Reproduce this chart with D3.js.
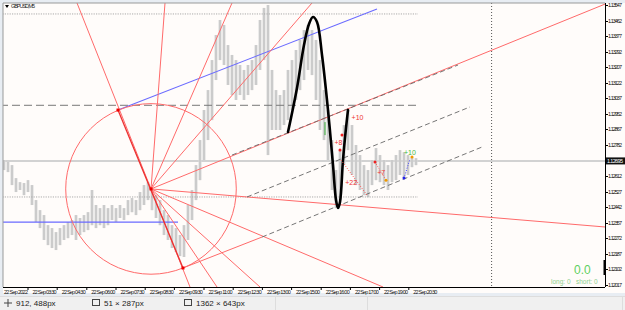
<!DOCTYPE html>
<html><head><meta charset="utf-8">
<script src="https://cdn.jsdelivr.net/npm/d3@7"></script>
<style>
body{margin:0;background:#fff;overflow:hidden}
svg{display:block;font-family:"Liberation Sans",Arial,sans-serif}
</style></head>
<body><svg id="c" width="625" height="310"></svg>
<script>
// ---------------- data ----------------
const symbolTitle = "GBPUSD,M5";
const priceTicks = [1.13547,1.13462,1.13377,1.13292,1.13207,1.13122,1.13037,1.12952,1.12867,1.12782,1.12612,1.12527,1.12442,1.12357,1.12272,1.12187,1.12102,1.12017];
const bidPrice = 1.12695;
const timeLabels = ["22 Sep 2022","22 Sep 03:30","22 Sep 04:30","22 Sep 06:00","22 Sep 07:30","22 Sep 08:30","22 Sep 09:30","22 Sep 11:00","22 Sep 12:30","22 Sep 13:00","22 Sep 15:00","22 Sep 16:00","22 Sep 17:00","22 Sep 19:00","22 Sep 20:30"];
const timeTickBars = [-1.3,6.0,13.3,20.7,28.0,35.3,42.6,50.0,57.3,64.6,71.9,79.3,86.6,93.9,101.2];
const barHigh = [1.12700,1.12689,1.12672,1.12601,1.12579,1.12574,1.12590,1.12563,1.12481,1.12426,
1.12399,1.12344,1.12328,1.12306,1.12328,1.12344,1.12361,1.12372,1.12399,1.12383,
1.12399,1.12415,1.12536,1.12454,1.12437,1.12454,1.12437,1.12454,1.12437,1.12454,
1.12437,1.12481,1.12492,1.12481,1.12525,1.12563,1.12579,1.12547,1.12508,1.12481,
1.12426,1.12399,1.12344,1.12328,1.12290,1.12344,1.12454,1.12536,1.12672,1.12809,
1.12973,1.13082,1.13246,1.13383,1.13465,1.13438,1.13328,1.13274,1.13246,1.13219,
1.13192,1.13219,1.13246,1.13328,1.13465,1.13531,1.13547,1.13192,1.13082,1.13055,
1.13082,1.13192,1.13246,1.13301,1.13356,1.13410,1.13438,1.13410,1.13356,1.13246,
1.13082,1.12973,1.12809,1.12645,1.12754,1.12891,1.12973,1.12891,1.12782,1.12727,
1.12672,1.12645,1.12700,1.12765,1.12727,1.12700,1.12672,1.12700,1.12727,1.12754,
1.12743,1.12727,1.12716,1.12710];
const barLow = [1.12645,1.12634,1.12563,1.12525,1.12536,1.12508,1.12525,1.12454,1.12361,1.12328,
1.12263,1.12235,1.12219,1.12208,1.12235,1.12263,1.12273,1.12290,1.12263,1.12290,
1.12306,1.12317,1.12344,1.12328,1.12344,1.12328,1.12344,1.12372,1.12361,1.12383,
1.12372,1.12399,1.12415,1.12399,1.12426,1.12454,1.12481,1.12426,1.12383,1.12344,
1.12290,1.12263,1.12219,1.12197,1.12175,1.12170,1.12263,1.12372,1.12481,1.12590,
1.12700,1.12809,1.12918,1.13137,1.13246,1.13219,1.13110,1.13055,1.13028,1.13055,
1.13028,1.13055,1.13082,1.13110,1.13192,1.13246,1.12727,1.12864,1.12864,1.12864,
1.12891,1.12918,1.12973,1.13028,1.13082,1.13137,1.13192,1.13164,1.13028,1.12864,
1.12809,1.12700,1.12536,1.12437,1.12481,1.12672,1.12754,1.12618,1.12563,1.12536,
1.12508,1.12497,1.12563,1.12590,1.12579,1.12563,1.12536,1.12579,1.12590,1.12618,
1.12601,1.12618,1.12661,1.12672];

// drawn objects: [bar1, price1, bar2, price2]
const dottedLevels = [1.13498, 1.12498];
const dottedEndBar = 103.5;
const dashedLevel = 1.12999;
const blueLevel = 1.12361;
const blueLevelEndBar = 43.5;
const blueTrend = [28.5,1.12973,93.25,1.13525];
const vLineBar = 121.9;
const fanCenter = [36.75, 1.12542];
const fanMain = [18.25,1.13558,46.5,1.12006];
const fanMainBold = [28.5,1.12973,44.75,1.12110];
const fanRayEnds = [[40.25,1.13558],[57,1.13558],[77,1.13558],[150.25,1.13552],[150.25,1.12334],[94.75,1.12006],[64,1.12006],[53.25,1.12006]];
const channelFoot = [44.75,1.12110,64.5,1.12279];
const circlePoint = [44.75, 1.12110];
const redAnchors = [[28.5,1.12973],[36.75,1.12542],[44.75,1.12110]];
const greyDashed = [[60.75,1.12498,116.5,1.12990],[64.5,1.12279,119.5,1.12771],[57,1.12727,113.5,1.13219]];
const blackCurve = [[71,1.12853],[73.25,1.13094],[75,1.13328],[76.25,1.13443],[77.25,1.13481],[78.25,1.13454],[79.5,1.13274],[81,1.12973],[82.25,1.12673],[83,1.12481],[83.5,1.12438],[84,1.12471],[84.75,1.12700],[85.5,1.12875],[86,1.12973]];
const greenMark = [80.25,1.12907,80.25,1.12836];
const redDotted = [[84.25,1.12700],[90.75,1.12508],[92.75,1.12689],[95.5,1.12590]];
const blueDotted = [[100,1.12601],[101.5,1.12706]];
const tradeLabels = [["+10",86.9,1.12918,"#e33"],["+8",82.6,1.12782,"#e33"],["+22",85.3,1.12563,"#e33"],["+7",93.3,1.12618,"#e33"],["+10",100,1.12727,"#4b4"]];
const tradeDots = [[84.5,1.12836,"#e22"],[84,1.12754,"#e22"],[92.75,1.12689,"#e22"],[95.5,1.12590,"#e90"],[100,1.12601,"#22e"],[102,1.12716,"#e90"]];
const profitText = "0.0";
const longShort = ["long: 0","short: 0"];
const statusItems = ["912, 488px","51 × 287px","1362 × 643px"];

// ---------------- drawing ----------------
const W=625,H=310;
const plot={l:3,t:3,r:605,b:287};
const svg=d3.select("#c");
const x=d3.scaleLinear().domain([0,150]).range([4,604]);
const y=d3.scaleLinear().domain([1.12017,1.13547]).range([285,5]);

svg.append("rect").attr("width",W).attr("height",H).attr("fill","#e8edf3");
svg.append("rect").attr("x",plot.l).attr("y",plot.t).attr("width",W-plot.l).attr("height",293-plot.t).attr("fill","#fffcfa");
svg.append("defs").append("clipPath").attr("id","pc").append("rect")
  .attr("x",plot.l).attr("y",plot.t).attr("width",plot.r-plot.l).attr("height",plot.b-plot.t);
const g=svg.append("g").attr("clip-path","url(#pc)");

function seg(a,stroke,w,dash,parent){
  return (parent||g).append("line").attr("x1",x(a[0])).attr("y1",y(a[1])).attr("x2",x(a[2])).attr("y2",y(a[3]))
   .attr("stroke",stroke).attr("stroke-width",w).attr("stroke-dasharray",dash||null);
}

// bid line
g.append("line").attr("x1",plot.l).attr("x2",plot.r).attr("y1",y(bidPrice)).attr("y2",y(bidPrice)).attr("stroke","#d2d2d2").attr("stroke-width",2);
// vertical dotted
g.append("line").attr("x1",x(vLineBar)).attr("x2",x(vLineBar)).attr("y1",plot.t).attr("y2",plot.b).attr("stroke","#555").attr("stroke-width",1).attr("stroke-dasharray","1,2");

// candles
g.selectAll(".bar").data(barHigh).join("rect")
  .attr("x",(d,i)=>x(i)-1.5).attr("width",3)
  .attr("y",d=>y(d)).attr("height",(d,i)=>y(barLow[i])-y(d))
  .attr("fill","#dadada");
g.selectAll(".wick").data(barHigh).join("line")
  .attr("x1",(d,i)=>x(i)).attr("x2",(d,i)=>x(i))
  .attr("y1",d=>y(d)).attr("y2",(d,i)=>y(barLow[i]))
  .attr("stroke","#bcbcbc").attr("stroke-width",1);

// horizontal levels
dottedLevels.forEach(p=>seg([-1,p,dottedEndBar,p],"#aaa",1,"1.2,1.2"));
seg([-1,dashedLevel,dottedEndBar,dashedLevel],"#777",1,"8,4");
seg([-1,blueLevel,blueLevelEndBar,blueLevel],"#6a6aff",1.2);
seg(blueTrend,"#6a6aff",1.1);

// red fan
seg(fanMain,"#ff6a6a",1);
fanRayEnds.forEach(e=>seg([fanCenter[0],fanCenter[1],e[0],e[1]],"#ff6a6a",1));
seg(channelFoot,"#ff6a6a",1);
seg(fanMainBold,"#ec3030",1.3);
const cx=x(fanCenter[0]),cy=y(fanCenter[1]);
const rr=Math.hypot(x(circlePoint[0])-cx,y(circlePoint[1])-cy);
g.append("circle").attr("cx",cx).attr("cy",cy).attr("r",rr).attr("fill","none").attr("stroke","#ff6a6a").attr("stroke-width",1);
redAnchors.forEach(a=>g.append("rect").attr("x",x(a[0])-1.5).attr("y",y(a[1])-1.5).attr("width",3).attr("height",3).attr("fill","#e00"));

// grey dashed channel
greyDashed.forEach(a=>seg(a,"#666",0.9,"5,3"));

// black curve
g.append("path").datum(blackCurve).attr("d",d3.line().x(d=>x(d[0])).y(d=>y(d[1])).curve(d3.curveCatmullRom.alpha(0.5)))
  .attr("fill","none").attr("stroke","#000").attr("stroke-width",2.6).attr("stroke-linecap","round");
seg(greenMark,"#3a3",1);

// trade markers
g.append("path").datum(redDotted.slice(0,2)).attr("d",d3.line().x(d=>x(d[0])).y(d=>y(d[1]))).attr("fill","none").attr("stroke","#f55").attr("stroke-dasharray","1,1.5");
g.append("path").datum(redDotted.slice(2)).attr("d",d3.line().x(d=>x(d[0])).y(d=>y(d[1]))).attr("fill","none").attr("stroke","#f55").attr("stroke-dasharray","1,1.5");
g.append("path").datum(blueDotted).attr("d",d3.line().x(d=>x(d[0])).y(d=>y(d[1]))).attr("fill","none").attr("stroke","#44f").attr("stroke-dasharray","1,1.5");
tradeDots.forEach(d=>g.append("circle").attr("cx",x(d[0])).attr("cy",y(d[1])).attr("r",1.5).attr("fill",d[2]));
tradeLabels.forEach(d=>g.append("text").attr("x",x(d[1])).attr("y",y(d[2])).attr("fill",d[3]).attr("font-size",7).text(d[0]));

// borders / axes
svg.append("line").attr("x1",plot.l).attr("x2",plot.r).attr("y1",plot.t).attr("y2",plot.t).attr("stroke","#999");
svg.append("line").attr("x1",plot.l).attr("x2",plot.l).attr("y1",plot.t).attr("y2",plot.b).attr("stroke","#999");
svg.append("line").attr("x1",plot.r+0.5).attr("x2",plot.r+0.5).attr("y1",plot.t).attr("y2",plot.b).attr("stroke","#000");
svg.append("line").attr("x1",plot.l).attr("x2",plot.r).attr("y1",plot.b+0.5).attr("y2",plot.b+0.5).attr("stroke","#000");

const ya=svg.append("g");
priceTicks.forEach(p=>{
  ya.append("line").attr("x1",plot.r).attr("x2",plot.r+3).attr("y1",Math.round(y(p))+0.5).attr("y2",Math.round(y(p))+0.5).attr("stroke","#000");
  ya.append("text").attr("x",608).attr("y",y(p)+2).attr("font-size",5.5).attr("textLength",14).attr("fill","#111").text(p.toFixed(5));
});
ya.append("rect").attr("x",606).attr("y",y(bidPrice)-3.5).attr("width",19).attr("height",7).attr("fill","#111");
ya.append("text").attr("x",607).attr("y",y(bidPrice)+2).attr("font-size",5.5).attr("textLength",16).attr("fill","#fff").text(bidPrice.toFixed(5));

const xa=svg.append("g");
timeTickBars.forEach((b,i)=>{
  const px=x(b);
  xa.append("line").attr("x1",px).attr("x2",px).attr("y1",plot.b).attr("y2",plot.b+3).attr("stroke","#000");
  xa.append("text").attr("x",i===0?4:px+4.5).attr("y",293.5).attr("font-size",5.5).attr("textLength",24).attr("fill","#111").text(timeLabels[i]);
});

// title
svg.append("path").attr("d","M5,5 L9,5 L7,8 Z").attr("fill","#000");
svg.append("text").attr("x",11).attr("y",8.2).attr("font-size",5.5).attr("textLength",24).attr("fill","#222").text(symbolTitle);

// profit panel
svg.append("text").attr("x",574).attr("y",274).attr("font-size",12).attr("fill","#5fd05f").text(profitText);
svg.append("text").attr("x",551).attr("y",284).attr("font-size",6.5).attr("fill","#8fd08f").text(longShort[0]);
svg.append("text").attr("x",576).attr("y",284).attr("font-size",6.5).attr("fill","#8fd08f").text(longShort[1]);
svg.append("rect").attr("x",603.5).attr("y",260).attr("width",2.5).attr("height",15).attr("fill","#000");

// status bar
svg.append("rect").attr("x",0).attr("y",296).attr("width",W).attr("height",14).attr("fill","#f0f0f0");
svg.append("line").attr("x1",0).attr("x2",W).attr("y1",296.5).attr("y2",296.5).attr("stroke","#ddd");
[[5,statusItems[0]],[93,statusItems[1]],[185,statusItems[2]]].forEach(([sx,t],i)=>{
  const sg=svg.append("g").attr("transform",`translate(${sx},303)`);
  if(i===0){sg.append("path").attr("d","M3,-4V4M-1,0H7").attr("stroke","#444");}
  else{sg.append("rect").attr("x",-0.5).attr("y",-3.5).attr("width",7).attr("height",6).attr("fill","none").attr("stroke","#444");}
  sg.append("text").attr("x",11).attr("y",3).attr("font-size",8).attr("fill","#222").text(t);
});
[275,367,622].forEach(sx=>svg.append("line").attr("x1",sx+0.5).attr("x2",sx+0.5).attr("y1",297).attr("y2",310).attr("stroke","#ddd"));
</script></body></html>
